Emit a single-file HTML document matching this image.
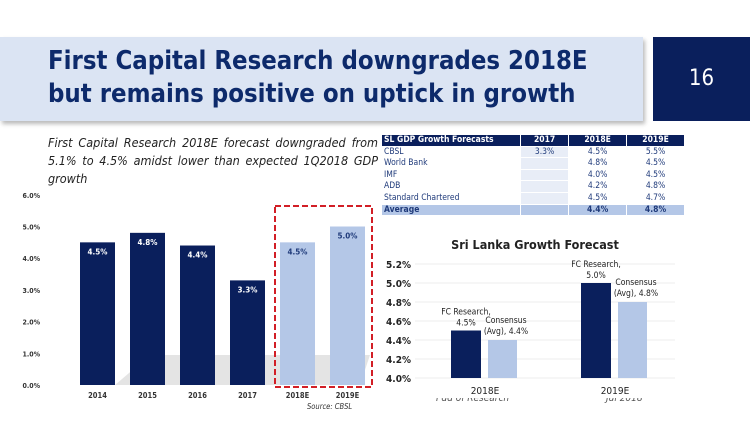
<!DOCTYPE html>
<html><head><meta charset="utf-8"><style>
body{margin:0;width:750px;height:422px;background:#fff;overflow:hidden;position:relative;font-family:"DejaVu Sans Condensed","DejaVu Sans","Liberation Sans",sans-serif;}
.abs{position:absolute}
table{border-collapse:separate;border-spacing:1px 1px;font-size:8.5px;color:#1f3a7a}
td{padding:0 2px;height:10.6px;line-height:10.6px}
</style></head><body>
<div class="abs" style="left:0;top:37px;width:643px;height:84px;background:#dbe4f3;box-shadow:2px 3px 4px #bbb"></div>
<div class="abs" style="left:48px;top:45px;font-size:25.5px;font-weight:bold;color:#0d2a6b;line-height:33px;font-family:'DejaVu Sans Condensed','DejaVu Sans',sans-serif">First Capital Research downgrades 2018E<br>but remains positive on uptick in growth</div>
<div class="abs" style="left:653px;top:37px;width:97px;height:84px;background:#0a1f5c;color:#fff;font-size:22px;text-align:center;line-height:84px">16</div>
<div class="abs" style="left:48px;top:134px;width:330px;font-size:12.5px;font-style:italic;color:#222;line-height:18px;text-align:justify;text-align-last:left">First Capital Research 2018E forecast downgraded from 5.1% to 4.5% amidst lower than expected 1Q2018 GDP growth</div>

<table class="abs" style="left:381px;top:134px;width:304px">
<tr style="background:#0a1f5c;color:#fff;font-weight:bold"><td style="width:134px">SL GDP Growth Forecasts</td><td style="text-align:center">2017</td><td style="text-align:center">2018E</td><td style="text-align:center">2019E</td></tr>
<tr><td>CBSL</td><td style="background:#e8edf7;text-align:center">3.3%</td><td style="text-align:center">4.5%</td><td style="text-align:center">5.5%</td></tr>
<tr><td>World Bank</td><td style="background:#e8edf7"></td><td style="text-align:center">4.8%</td><td style="text-align:center">4.5%</td></tr>
<tr><td>IMF</td><td style="background:#e8edf7"></td><td style="text-align:center">4.0%</td><td style="text-align:center">4.5%</td></tr>
<tr><td>ADB</td><td style="background:#e8edf7"></td><td style="text-align:center">4.2%</td><td style="text-align:center">4.8%</td></tr>
<tr><td>Standard Chartered</td><td style="background:#e8edf7"></td><td style="text-align:center">4.5%</td><td style="text-align:center">4.7%</td></tr>
<tr style="background:#b4c7e7;font-weight:bold"><td>Average</td><td></td><td style="text-align:center">4.4%</td><td style="text-align:center">4.8%</td></tr>
</table>

<svg class="abs" style="left:0;top:0" width="750" height="422">
<g id="left"></g>
<g id="right"></g>
</svg>
<div class="abs" style="left:436px;top:398px;width:300px;height:9px;overflow:hidden;font-size:10px;font-style:italic;color:#555"><span style="position:absolute;top:-5px;left:0">Pdd of Research</span><span style="position:absolute;top:-5px;left:170px">Jul 2018</span></div>
<script>
const leftCats=["2014","2015","2016","2017","2018E","2019E"];
const leftVals=[4.5,4.8,4.4,3.3,4.5,5.0];
const leftLabels=["4.5%","4.8%","4.4%","3.3%","4.5%","5.0%"];
const leftTicks=[0,1,2,3,4,5,6];
const rightCats=["2018E","2019E"];
const fcVals=[4.5,5.0];
const consVals=[4.4,4.8];
const rightTicks=[4.0,4.2,4.4,4.6,4.8,5.0,5.2];
const NS="http://www.w3.org/2000/svg";
function mk(p,t,a,txt){const e=document.createElementNS(NS,t);for(const k in a)e.setAttribute(k,a[k]);if(txt!==undefined)e.textContent=txt;p.appendChild(e);return e;}
const L=document.getElementById('left');
const ly=v=>385-v*31.7, lx=i=>97.5+i*50;
leftTicks.forEach(t=>{const e=mk(L,'text',{x:40,y:ly(t)+3,'text-anchor':'end','font-size':7,'font-weight':'bold',fill:'#333'},t.toFixed(1)+'%');

});
mk(L,'polygon',{points:'115,385 150,355 370,355 360,385',fill:'#d8d8d8',opacity:0.7});
leftVals.forEach((v,i)=>{const fc=i<4?'#0a1f5c':'#b4c7e7';
const r=mk(L,'rect',{x:lx(i)-17.5,y:ly(v),width:35,height:ly(0)-ly(v),fill:fc});


const t=mk(L,'text',{x:lx(i),y:ly(v)+12,'text-anchor':'middle','font-size':8,'font-weight':'bold',fill:i<4?'#fff':'#1f3a7a'},leftLabels[i]);


const c=mk(L,'text',{x:lx(i),y:398,'text-anchor':'middle','font-size':7.5,'font-weight':'bold',fill:'#333'},leftCats[i]);

});
const box=mk(L,'rect',{x:275,y:206,width:97,height:181,fill:'none',stroke:'#d21f26','stroke-width':2,'stroke-dasharray':'6,3'});


const src=mk(L,'text',{x:307,y:409,'font-size':7.5,'font-style':'italic',fill:'#333'},'Source: CBSL');



const R=document.getElementById('right');
const ry=v=>378-(v-4.0)*95, rx=i=>499+i*130;
const ttl=mk(R,'text',{x:535,y:249,'text-anchor':'middle','font-size':12.5,'font-weight':'bold',fill:'#222'},'Sri Lanka Growth Forecast');


rightTicks.forEach(t=>{mk(R,'line',{x1:415,x2:675,y1:ry(t),y2:ry(t),stroke:'#eee'});
const e=mk(R,'text',{x:411,y:ry(t)+4,'text-anchor':'end','font-size':10,'font-weight':'bold',fill:'#222'},t.toFixed(1)+'%');

});
rightCats.forEach((c,i)=>{
const a=mk(R,'rect',{x:rx(i)-48,y:ry(fcVals[i]),width:30,height:ry(4.0)-ry(fcVals[i]),fill:'#0a1f5c'});


const b=mk(R,'rect',{x:rx(i)-11,y:ry(consVals[i]),width:29,height:ry(4.0)-ry(consVals[i]),fill:'#b4c7e7'});


const t1=mk(R,'text',{x:rx(i)-33,y:ry(fcVals[i])-16,'text-anchor':'middle','font-size':8.5,fill:'#222'},'FC Research,');


const t2=mk(R,'text',{x:rx(i)-33,y:ry(fcVals[i])-5,'text-anchor':'middle','font-size':8.5,fill:'#222'},fcVals[i].toFixed(1)+'%');


const t3=mk(R,'text',{x:rx(i)+7,y:ry(consVals[i])-17,'text-anchor':'middle','font-size':8.5,fill:'#222'},'Consensus');


const t4=mk(R,'text',{x:rx(i)+7,y:ry(consVals[i])-6,'text-anchor':'middle','font-size':8.5,fill:'#222'},'(Avg), '+consVals[i].toFixed(1)+'%');


const x=mk(R,'text',{x:rx(i)-14,y:394,'text-anchor':'middle','font-size':10,fill:'#222'},c);

});
</script>
</body></html>
